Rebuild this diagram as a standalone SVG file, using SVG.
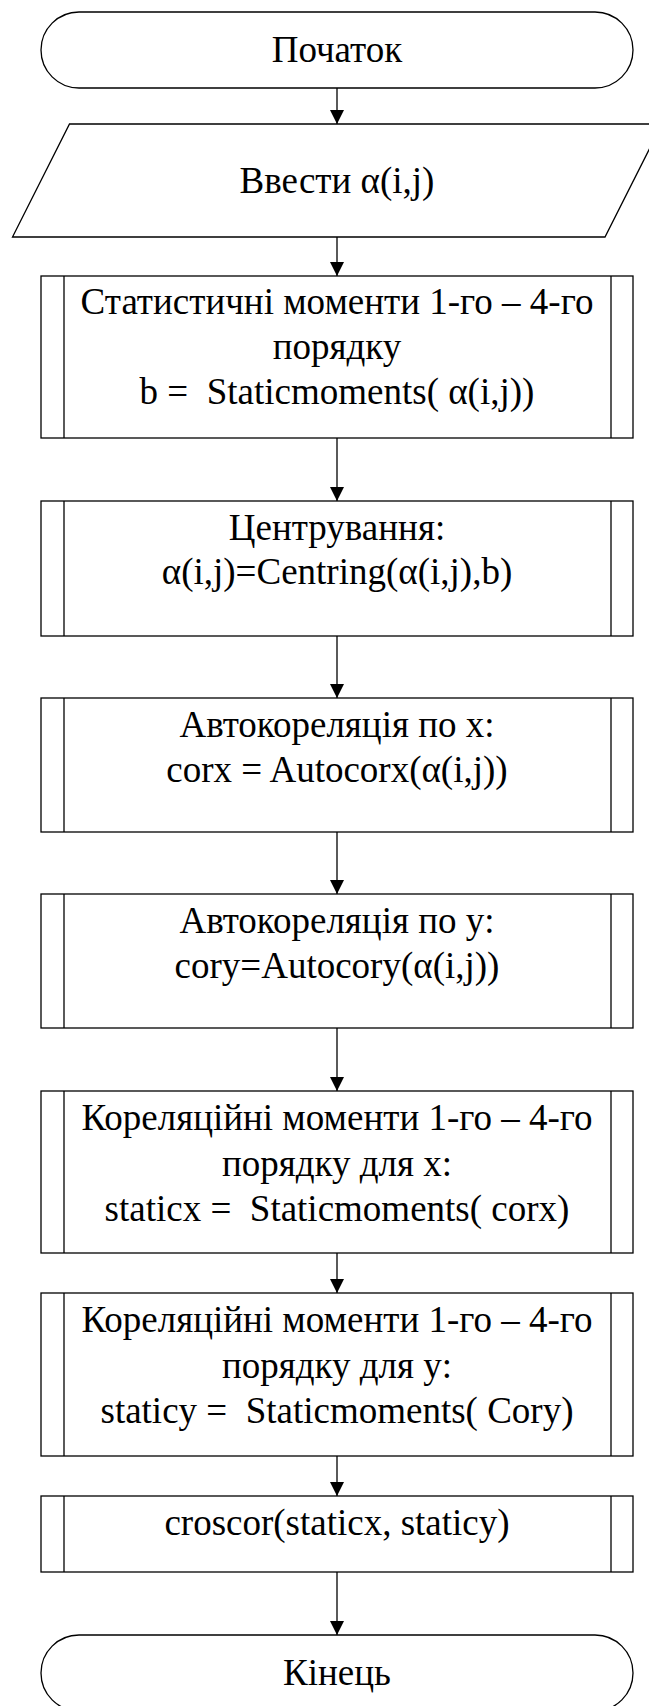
<svg xmlns="http://www.w3.org/2000/svg" width="649" height="1706" viewBox="0 0 649 1706">
<style>
.s{fill:#fff;stroke:#000;stroke-width:1.3}
.l{fill:none;stroke:#000;stroke-width:1.3}
.c{stroke:#000;stroke-width:1.3;fill:none}
text{font-family:"Liberation Serif","Times New Roman",serif;font-size:37px;fill:#000;text-anchor:middle;white-space:pre}
</style>
<defs>
<marker id="ah" markerWidth="14" markerHeight="14" viewBox="0 0 14 14" refX="14" refY="7" orient="auto" markerUnits="userSpaceOnUse">
<path d="M0,0 L14,7 L0,14 Z" fill="#000"/>
</marker>
</defs>
<rect width="649" height="1706" fill="#fff"/>
<g id="connectors">
<line class="c" x1="337" y1="88" x2="337" y2="124" marker-end="url(#ah)"/>
<line class="c" x1="337" y1="237" x2="337" y2="276" marker-end="url(#ah)"/>
<line class="c" x1="337" y1="438" x2="337" y2="501" marker-end="url(#ah)"/>
<line class="c" x1="337" y1="636" x2="337" y2="698" marker-end="url(#ah)"/>
<line class="c" x1="337" y1="832" x2="337" y2="894" marker-end="url(#ah)"/>
<line class="c" x1="337" y1="1028" x2="337" y2="1091" marker-end="url(#ah)"/>
<line class="c" x1="337" y1="1253" x2="337" y2="1293" marker-end="url(#ah)"/>
<line class="c" x1="337" y1="1456" x2="337" y2="1496" marker-end="url(#ah)"/>
<line class="c" x1="337" y1="1572" x2="337" y2="1635" marker-end="url(#ah)"/>
</g>
<g id="start">
<rect class="s" x="41" y="12" width="592" height="76" rx="38" ry="38"/>
<text x="337" y="62">Початок</text>
</g>
<g id="input">
<polygon class="s" points="69.5,124 662,124 605,237 12.5,237"/>
<text x="337" y="193">Ввести α(i,j)</text>
</g>
<g id="box1">
<rect class="s" x="41" y="276" width="592" height="162"/>
<line class="l" x1="64" y1="276" x2="64" y2="438"/>
<line class="l" x1="611" y1="276" x2="611" y2="438"/>
<text x="337" y="314">Статистичні моменти 1-го – 4-го</text>
<text x="337" y="359">порядку</text>
<text x="337" y="404">b =  Staticmoments( α(i,j))</text>
</g>
<g id="box2">
<rect class="s" x="41" y="501" width="592" height="135"/>
<line class="l" x1="64" y1="501" x2="64" y2="636"/>
<line class="l" x1="611" y1="501" x2="611" y2="636"/>
<text x="337" y="540">Центрування:</text>
<text x="337" y="584">α(i,j)=Centring(α(i,j),b)</text>
</g>
<g id="box3">
<rect class="s" x="41" y="698" width="592" height="134"/>
<line class="l" x1="64" y1="698" x2="64" y2="832"/>
<line class="l" x1="611" y1="698" x2="611" y2="832"/>
<text x="337" y="737">Автокореляція по x:</text>
<text x="337" y="782">corx = Autocorx(α(i,j))</text>
</g>
<g id="box4">
<rect class="s" x="41" y="894" width="592" height="134"/>
<line class="l" x1="64" y1="894" x2="64" y2="1028"/>
<line class="l" x1="611" y1="894" x2="611" y2="1028"/>
<text x="337" y="933">Автокореляція по y:</text>
<text x="337" y="978">cory=Autocory(α(i,j))</text>
</g>
<g id="box5">
<rect class="s" x="41" y="1091" width="592" height="162"/>
<line class="l" x1="64" y1="1091" x2="64" y2="1253"/>
<line class="l" x1="611" y1="1091" x2="611" y2="1253"/>
<text x="337" y="1130">Кореляційні моменти 1-го – 4-го</text>
<text x="337" y="1176">порядку для x:</text>
<text x="337" y="1221">staticx =  Staticmoments( corx)</text>
</g>
<g id="box6">
<rect class="s" x="41" y="1293" width="592" height="163"/>
<line class="l" x1="64" y1="1293" x2="64" y2="1456"/>
<line class="l" x1="611" y1="1293" x2="611" y2="1456"/>
<text x="337" y="1332">Кореляційні моменти 1-го – 4-го</text>
<text x="337" y="1378">порядку для y:</text>
<text x="337" y="1423">staticy =  Staticmoments( Cory)</text>
</g>
<g id="box7">
<rect class="s" x="41" y="1496" width="592" height="76"/>
<line class="l" x1="64" y1="1496" x2="64" y2="1572"/>
<line class="l" x1="611" y1="1496" x2="611" y2="1572"/>
<text x="337" y="1535">croscor(staticx, staticy)</text>
</g>
<g id="end">
<rect class="s" x="41" y="1635" width="592" height="76" rx="38" ry="38"/>
<text x="337" y="1685">Кінець</text>
</g>
</svg>
